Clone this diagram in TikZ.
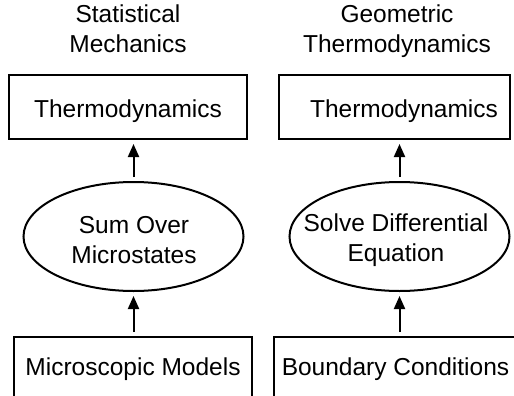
\documentclass[tikz,border=0pt]{standalone}
\usepackage{fontspec}
\setmainfont{Liberation Sans}
\usetikzlibrary{shapes.geometric,arrows.meta}

\tikzset{
  box/.style={draw, line width=1pt, minimum height=32pt, inner sep=2.5pt, text height=11pt, text depth=1pt},
  oval/.style={draw, ellipse, line width=1pt, minimum width=110pt, minimum height=54.5pt, inner sep=0pt},
  up/.style={-{Triangle[length=6.5pt,width=5.5pt]}, line width=1pt, shorten <=2pt, shorten >=2pt},
  txt/.style={align=center, inner sep=0pt}
}

\begin{document}
\begin{tikzpicture}[x=0.5pt,y=-0.5pt,font=\fontsize{12.25}{15}\selectfont]
        \useasboundingbox (0,0) rectangle (514,396);
        % headings
        \node[txt] (headL) at (128,29) {Statistical\\Mechanics};
        \node[txt] (headR) at (397,31.5) {Geometric\\Thermodynamics};
        % top boxes
        \node[box, minimum width=119pt] (thermoL) at (128,107) {Thermodynamics};
        \node[box, minimum width=115.5pt] (thermoR) at (394.5,107) {};
        \node[txt] (thermoRtxt) at (404,111) {Thermodynamics};
        % ellipses
        \node[oval] (ovalL) at (133.5,236.5) {};
        \node[txt] (sumtxt) at (134,240) {Sum Over\\Microstates};
        \node[oval] (ovalR) at (399.5,236.5) {};
        \node[txt] (solvetxt) at (396,240) {Solve Differential\\Equation};
        % bottom boxes
        \node[box, minimum width=119pt, minimum height=31pt, text height=9pt, text depth=2pt] (microL) at (133,368) {Microscopic Models};
        \node[box, minimum width=122pt, minimum height=31pt, text height=9pt, text depth=2pt] (boundR) at (395.5,368) {Boundary Conditions};
        % arrows
        \draw[up] (ovalL.north) -- (ovalL.north |- thermoL.south);
        \draw[up] (ovalR.north) -- (ovalR.north |- thermoR.south);
        \draw[up] (ovalL.south |- microL.north) -- (ovalL.south);
        \draw[up] (ovalR.south |- boundR.north) -- (ovalR.south);
\end{tikzpicture}
\end{document}
